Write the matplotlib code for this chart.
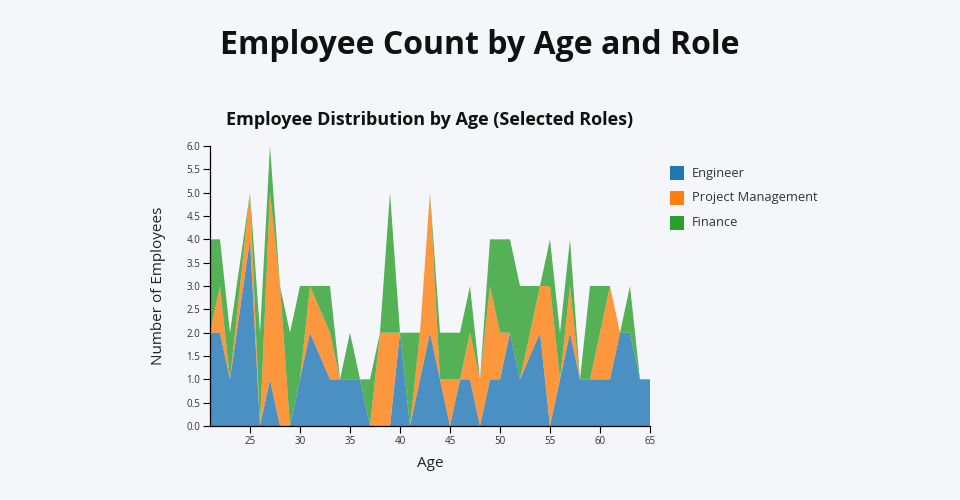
import matplotlib
matplotlib.use("Agg")
import matplotlib.pyplot as plt
from matplotlib.patches import Rectangle
import numpy as np

plt.rcParams['font.family'] = ['Open Sans', 'DejaVu Sans']

ages = [21, 22, 23, 25, 26, 27, 28, 29, 30, 31, 33, 34, 35, 36, 37, 38, 39, 40, 41, 42, 43,
        44, 45, 46, 47, 48, 49, 50, 51, 52, 54, 55, 56, 57, 58, 59, 60, 61, 62, 63, 64, 65]
engineer = [2, 2, 1, 4, 0, 1, 0, 0, 1, 2, 1, 1, 1, 1, 0, 0, 0, 2, 0, 1, 2,
            1, 0, 1, 1, 0, 1, 1, 2, 1, 2, 0, 1, 2, 1, 1, 1, 1, 2, 2, 1, 1]
project_mgmt = [0, 1, 0, 1, 0, 4, 3, 0, 0, 1, 1, 0, 0, 0, 0, 2, 2, 0, 0, 1, 3,
                0, 1, 0, 1, 1, 2, 1, 0, 0, 1, 3, 0, 1, 0, 0, 1, 2, 0, 0, 0, 0]
finance = [2, 1, 1, 0, 2, 1, 0, 2, 2, 0, 1, 0, 1, 0, 1, 0, 3, 0, 2, 0, 0,
           1, 1, 1, 1, 0, 1, 2, 2, 2, 0, 1, 1, 1, 0, 2, 1, 0, 0, 1, 0, 0]
roles = ["Engineer", "Project Management", "Finance"]
colors = ["#1f77b4", "#ff7f0e", "#2ca02c"]
x_ticks = [25, 30, 35, 40, 45, 50, 55, 60, 65]

bg = "#f5f6fa"
fig = plt.figure(figsize=(9.6, 5.0), dpi=100, facecolor=bg)
W, H = 960, 500
left, right, top, bottom = 210, 650, 146, 426
ax = fig.add_axes([left / W, 1 - bottom / H, (right - left) / W, (bottom - top) / H])
ax.set_facecolor(bg)

ax.stackplot(ages, engineer, project_mgmt, finance, colors=colors, alpha=0.8,
             linewidth=0)

ax.set_xlim(21, 65)
ax.set_ylim(0, 6)
ax.set_yticks(np.arange(0, 6.01, 0.5))
ax.set_yticklabels([f"{v:.1f}" for v in np.arange(0, 6.01, 0.5)])
ax.set_xticks(x_ticks)
ax.tick_params(axis='both', labelsize=7, length=5, width=0.8, color='black',
               labelcolor='#333333', pad=2)
for s in ['top', 'right']:
    ax.spines[s].set_visible(False)
for s in ['left', 'bottom']:
    ax.spines[s].set_linewidth(0.9)
    ax.spines[s].set_color('black')

ax.set_xlabel("Age", fontsize=11, color='#222222', labelpad=7)
ax.set_ylabel("Number of Employees", fontsize=11, color='#222222', labelpad=15)

fig.text(480 / W, 1 - 45 / H, "Employee Count by Age and Role", ha='center', va='center',
         fontsize=23, fontweight='bold', color='#111111')
fig.text(430 / W, 1 - 120 / H, "Employee Distribution by Age (Selected Roles)", ha='center',
         va='center', fontsize=13, fontweight='bold', color='#111111')

for i, (r, c) in enumerate(zip(roles, colors)):
    y = 173 + i * 25
    fig.patches.append(Rectangle((670 / W, 1 - (y + 7) / H), 14 / W, 14 / H,
                                 transform=fig.transFigure, facecolor=c, edgecolor='none'))
    fig.text(692 / W, 1 - y / H, r, ha='left', va='center', fontsize=9.3, color='#333333')

fig.savefig("out.png", dpi=100, facecolor=bg)
